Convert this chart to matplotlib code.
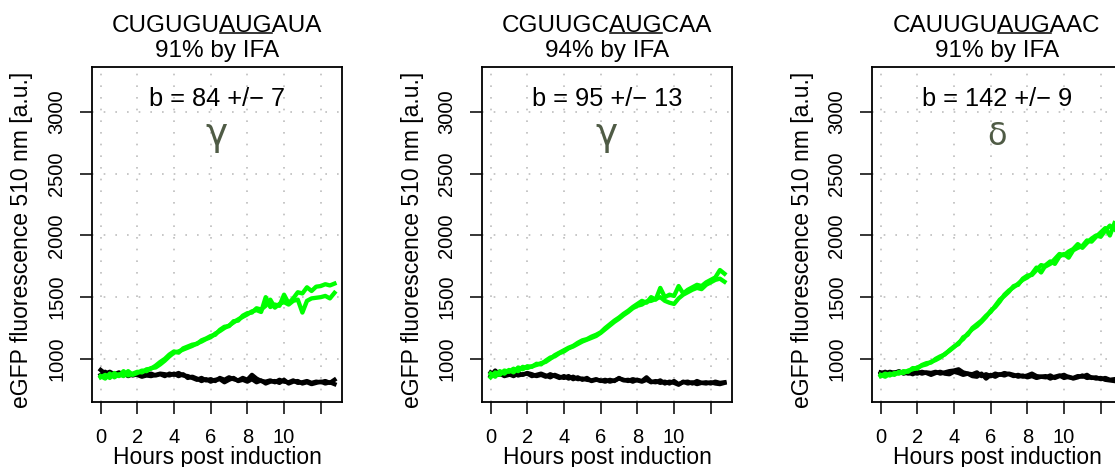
"""
eGFP蛍光の時間変化 (3つの開始コドン文脈)
"""

import numpy as np
import matplotlib.pyplot as plt
from matplotlib.lines import Line2D

#データ
hours = np.arange(0, 12.76, 0.25)   #測定時間 [h]

seqs   = ['CUGUGUAUGAUA', 'CGUUGCAUGCAA', 'CAUUGUAUGAAC']
ifa    = ['91% by IFA', '94% by IFA', '91% by IFA']
bvals  = ['b = 84 +/\u2212 7', 'b = 95 +/\u2212 13', 'b = 142 +/\u2212 9']
letters = ['\u03b3', '\u03b3', '\u03b4']

xticks = [0, 2, 4, 6, 8, 10, 12]
xticklabels = ['0', '2', '4', '6', '8', '10', '']
yticks = [1000, 1500, 2000, 2500, 3000]

#パネル1
green1a = [860, 840, 880, 850, 875, 860, 900, 870, 885, 905, 900, 925, 930, 955, 985, 1020,
           1050, 1060, 1075, 1090, 1105, 1125, 1140, 1160, 1175, 1205, 1225, 1250, 1270, 1295,
           1320, 1340, 1360, 1385, 1395, 1380, 1500, 1420, 1440, 1430, 1520, 1450, 1490, 1540,
           1530, 1580, 1550, 1585, 1590, 1605, 1595, 1610]
green1b = [850, 870, 845, 885, 860, 900, 865, 880, 895, 890, 915, 920, 945, 975, 1000, 1035,
           1060, 1050, 1085, 1100, 1115, 1120, 1150, 1165, 1185, 1195, 1235, 1260, 1265, 1305,
           1310, 1350, 1370, 1375, 1410, 1400, 1430, 1480, 1415, 1445, 1460, 1440, 1470, 1480,
           1375, 1470, 1490, 1495, 1500, 1510, 1490, 1535]
black1a = [910, 880, 895, 875, 890, 870, 885, 865, 875, 860, 870, 880, 865, 875, 860, 880,
           870, 885, 865, 860, 845, 830, 845, 825, 835, 820, 845, 830, 850, 835, 825, 845,
           830, 870, 840, 820, 815, 825, 810, 830, 815, 810, 825, 805, 810, 820, 805, 815,
           810, 820, 805, 830]
black1b = [870, 895, 860, 880, 865, 885, 860, 875, 870, 855, 865, 860, 870, 880, 875, 865,
           880, 860, 875, 845, 855, 840, 820, 835, 815, 830, 835, 810, 830, 845, 820, 830,
           815, 835, 810, 825, 800, 815, 820, 805, 830, 800, 815, 820, 800, 810, 795, 805,
           815, 800, 810, 795]

#パネル2
green2a = [850, 890, 870, 905, 895, 920, 900, 935, 925, 940, 950, 965, 975, 1000, 1030, 1050,
           1070, 1090, 1105, 1130, 1150, 1160, 1180, 1195, 1215, 1250, 1280, 1310, 1335, 1365,
           1390, 1420, 1445, 1470, 1455, 1500, 1480, 1575, 1500, 1520, 1510, 1590, 1530, 1560,
           1580, 1600, 1590, 1620, 1640, 1660, 1720, 1690]
green2b = [880, 855, 900, 880, 910, 890, 930, 915, 940, 935, 960, 955, 985, 1010, 1020, 1045,
           1060, 1085, 1100, 1120, 1140, 1155, 1170, 1185, 1210, 1240, 1270, 1300, 1325, 1355,
           1380, 1410, 1430, 1440, 1465, 1470, 1485, 1500, 1470, 1455, 1445, 1490, 1520, 1540,
           1560, 1575, 1565, 1600, 1620, 1640, 1650, 1625]
black2a = [860, 905, 870, 890, 875, 860, 880, 870, 885, 875, 860, 870, 855, 875, 860, 845,
           860, 840, 855, 835, 840, 830, 825, 835, 820, 830, 815, 825, 840, 830, 820, 835,
           825, 815, 830, 810, 820, 805, 815, 800, 820, 795, 810, 815, 800, 820, 805, 810,
           800, 815, 805, 810]
black2b = [890, 865, 880, 860, 870, 885, 865, 875, 880, 860, 870, 880, 865, 850, 870, 855,
           845, 860, 835, 850, 830, 845, 820, 830, 825, 815, 830, 820, 845, 825, 830, 815,
           830, 820, 850, 815, 810, 825, 800, 815, 805, 790, 815, 800, 810, 795, 805, 800,
           810, 800, 795, 805]

#パネル3
green3a = [870, 855, 880, 870, 895, 885, 905, 915, 930, 945, 955, 975, 990, 1010, 1040, 1065,
           1095, 1130, 1160, 1205, 1240, 1265, 1300, 1340, 1390, 1420, 1465, 1520, 1555, 1580,
           1610, 1640, 1660, 1690, 1740, 1700, 1760, 1790, 1770, 1830, 1850, 1820, 1880, 1900,
           1915, 1960, 1950, 1990, 2025, 2060, 2000, 2100]
green3b = [860, 880, 865, 885, 880, 900, 895, 925, 920, 950, 965, 970, 1000, 1020, 1035, 1070,
           1100, 1120, 1175, 1195, 1250, 1280, 1310, 1350, 1380, 1430, 1480, 1510, 1545, 1590,
           1600, 1650, 1675, 1680, 1720, 1760, 1750, 1770, 1810, 1850, 1840, 1870, 1890, 1930,
           1900, 1940, 1975, 2000, 1990, 2040, 2080, 2050]
black3a = [890, 880, 895, 885, 900, 880, 890, 875, 895, 880, 890, 885, 895, 880, 890, 900,
           905, 915, 890, 880, 875, 890, 860, 875, 860, 880, 870, 885, 875, 860, 870, 855,
           865, 880, 860, 855, 850, 865, 845, 860, 870, 850, 845, 860, 855, 870, 845, 850,
           835, 845, 830, 835]
black3b = [880, 895, 875, 890, 885, 895, 880, 890, 880, 895, 885, 870, 885, 895, 880, 875,
           895, 885, 870, 880, 860, 855, 880, 840, 870, 855, 875, 865, 880, 870, 855, 865,
           850, 860, 845, 855, 860, 840, 855, 865, 845, 855, 840, 850, 865, 845, 850, 840,
           845, 830, 825, 820]

greens = [[green1a, green1b], [green2a, green2b], [green3a, green3b]]
blacks = [[black1a, black1b], [black2a, black2b], [black3a, black3b]]

#描画設定
plt.rcParams['font.family'] = ['Liberation Sans', 'DejaVu Sans']
W, H = 1115, 467
fig = plt.figure(figsize=(W/100, H/100), dpi=100)

lefts = [92, 482, 872]     #各パネル左端 [px]
ax_w, ax_b, ax_h = 250, 65, 335
title_fs = 17.5
green = '#00ff00'
letter_col = '#4f5b45'


def underline(ax, text_obj, seq, start, stop):
    """seq[start:stop]に下線を引く"""
    fig.canvas.draw()
    r = fig.canvas.get_renderer()
    bb = text_obj.get_window_extent(r)

    def width(s):
        tmp = fig.text(0, 0, s, fontsize=title_fs)
        w = tmp.get_window_extent(r).width
        tmp.remove()
        return w

    x0 = bb.x0 + width(seq[:start])
    x1 = bb.x0 + width(seq[:stop])
    y = bb.y0 + 4
    fig.add_artist(Line2D([x0/W, x1/W], [y/H, y/H], transform=fig.transFigure,
                          color='black', lw=1.1))


for i in range(3):
    ax = fig.add_axes([lefts[i]/W, ax_b/H, ax_w/W, ax_h/H])
    for y in blacks[i]:
        assert len(y) == len(hours)
        ax.plot(hours, y, color='black', lw=3.1, solid_joinstyle='round')
    for y in greens[i]:
        assert len(y) == len(hours)
        ax.plot(hours, y, color=green, lw=3.1, solid_joinstyle='round')

    ax.set_xlim(-0.47, 13.16)
    ax.set_ylim(650, 3366)
    ax.set_xticks(xticks)
    ax.set_xticklabels(xticklabels)
    ax.set_yticks(yticks)
    ax.set_yticklabels([str(v) for v in yticks], rotation=90, va='center')
    ax.tick_params(length=8.5, width=1.1, pad=10, labelsize=14.5)
    ax.grid(True, color='#bdbdbd', linestyle=(0, (1, 6)), lw=1.2)
    ax.set_axisbelow(True)
    for s in ax.spines.values():
        s.set_linewidth(1.3)

    ax.set_xlabel('Hours post induction', fontsize=16.5)
    ax.xaxis.set_label_coords(0.5, -0.131)
    ax.set_ylabel('eGFP fluorescence 510 nm [a.u.]', fontsize=16.5)
    ax.yaxis.set_label_coords(-0.234, 0.484)

    #タイトル(2行)
    t1 = ax.annotate(seqs[i], xy=(0.5, 1), xycoords='axes fraction', xytext=(0, 25.5),
                     textcoords='offset points', ha='center', va='baseline', fontsize=title_fs)
    ax.annotate(ifa[i], xy=(0.5, 1), xycoords='axes fraction', xytext=(0, 7),
                textcoords='offset points', ha='center', va='baseline', fontsize=title_fs)
    underline(ax, t1, seqs[i], 6, 9)

    ax.text(0.5, 0.884, bvals[i], transform=ax.transAxes, ha='center', va='baseline',
            fontsize=18.3)
    gsize = 27 if letters[i] == '\u03b3' else 23
    ax.text(0.5, 0.767, letters[i], transform=ax.transAxes, ha='center', va='baseline',
            fontsize=gsize, color=letter_col, family='DejaVu Sans')

fig.savefig('out.png', dpi=100)
